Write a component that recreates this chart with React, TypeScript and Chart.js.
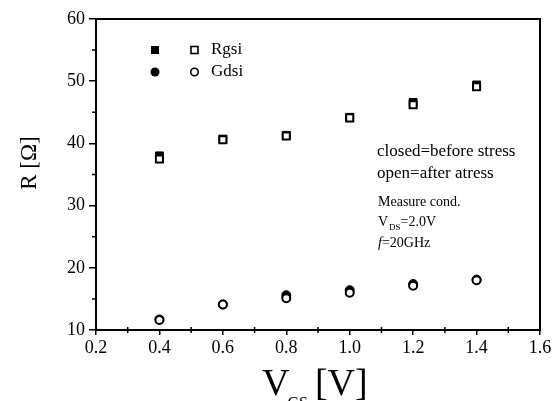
import React, { useEffect, useRef } from "react";
import { Chart, registerables } from "chart.js";

Chart.register(...registerables);

const vgs = [0.4, 0.6, 0.8, 1.0, 1.2, 1.4];
const rgsiClosed = [38.0, 40.7, 41.3, 44.2, 46.6, 49.4];
const rgsiOpen = [37.5, 40.6, 41.2, 44.1, 46.2, 49.1];
const gdsiClosed = [11.7, 14.1, 15.6, 16.4, 17.4, 18.1];
const gdsiOpen = [11.6, 14.1, 15.1, 16.0, 17.1, 18.0];
const xRange = [0.2, 1.6];
const yRange = [10, 60];
const xMinorTicks = [0.3, 0.5, 0.7, 0.9, 1.1, 1.3, 1.5];
const yMinorTicks = [15, 25, 35, 45, 55];
const legendLabels = ["Rgsi", "Gdsi"];
const noteLines = ["closed=before stress", "open=after atress", "Measure cond."];

const SERIF = "'Liberation Serif', 'DejaVu Serif', serif";

const pts = (ys: number[]) => vgs.map((x, i) => ({ x, y: ys[i] }));

const decorPlugin = {
  id: "decor",
  afterDraw(chart: any) {
    const { ctx, chartArea: a, scales } = chart;
    const xs = scales.x;
    const ys = scales.y;
    ctx.save();
    // frame
    ctx.strokeStyle = "#000";
    ctx.lineWidth = 2;
    ctx.strokeRect(a.left, a.top, a.right - a.left, a.bottom - a.top);
    // minor ticks
    ctx.lineWidth = 1.5;
    ctx.beginPath();
    xMinorTicks.forEach((v) => {
      const px = xs.getPixelForValue(v);
      ctx.moveTo(px, a.bottom - 3);
      ctx.lineTo(px, a.bottom + 3);
    });
    yMinorTicks.forEach((v) => {
      const py = ys.getPixelForValue(v);
      ctx.moveTo(a.left - 4, py);
      ctx.lineTo(a.left, py);
    });
    ctx.stroke();

    // legend
    ctx.fillStyle = "#000";
    const lx = a.left + 59;
    const ly1 = a.top + 31;
    const ly2 = a.top + 53;
    ctx.fillRect(lx - 4, ly1 - 4, 8, 8);
    ctx.lineWidth = 1.6;
    ctx.strokeRect(lx + 36, ly1 - 3.5, 7, 7);
    ctx.beginPath();
    ctx.arc(lx, ly2, 4.5, 0, Math.PI * 2);
    ctx.fill();
    ctx.beginPath();
    ctx.arc(lx + 39.5, ly2, 3.8, 0, Math.PI * 2);
    ctx.stroke();
    ctx.font = `17px ${SERIF}`;
    ctx.textBaseline = "middle";
    ctx.textAlign = "left";
    ctx.fillText(legendLabels[0], lx + 56, ly1);
    ctx.fillText(legendLabels[1], lx + 56, ly2);

    // notes
    const nx = a.left + 281;
    ctx.font = `17px ${SERIF}`;
    ctx.fillText(noteLines[0], nx, a.top + 133);
    ctx.fillText(noteLines[1], nx, a.top + 155);
    ctx.font = `14px ${SERIF}`;
    ctx.fillText(noteLines[2], nx + 1, a.top + 183);
    // V_DS=2.0V
    let cx = nx + 1;
    const vy = a.top + 203;
    ctx.fillText("V", cx, vy);
    cx += ctx.measureText("V").width;
    ctx.font = `9px ${SERIF}`;
    ctx.fillText("DS", cx + 1, vy + 6);
    cx += ctx.measureText("DS").width + 1;
    ctx.font = `14px ${SERIF}`;
    ctx.fillText("=2.0V", cx, vy);
    // f=20GHz
    cx = nx + 1;
    const fy = a.top + 224;
    ctx.font = `italic 14px ${SERIF}`;
    ctx.fillText("f", cx, fy);
    cx += ctx.measureText("f").width;
    ctx.font = `14px ${SERIF}`;
    ctx.fillText("=20GHz", cx, fy);

    // x title
    ctx.textBaseline = "alphabetic";
    let tx = 262;
    const tb = 395;
    ctx.font = `38px ${SERIF}`;
    ctx.fillText("V", tx, tb);
    tx += ctx.measureText("V").width - 2;
    ctx.font = `16px ${SERIF}`;
    ctx.fillText("GS", tx, tb + 13);
    tx += ctx.measureText("GS").width + 7;
    ctx.font = `38px ${SERIF}`;
    ctx.fillText("[V]", tx, tb);

    // y title
    ctx.save();
    ctx.translate(30, 163);
    ctx.rotate(-Math.PI / 2);
    ctx.textAlign = "center";
    ctx.textBaseline = "middle";
    ctx.font = `23px ${SERIF}`;
    ctx.fillText("R [\u03A9]", 0, 0);
    ctx.restore();

    ctx.restore();
  },
};

export default function App() {
  const ref = useRef<HTMLCanvasElement | null>(null);
  useEffect(() => {
    if (!ref.current) return;
    const chart = new Chart(ref.current, {
      type: "scatter",
      data: {
        datasets: [
          {
            label: "Rgsi open",
            data: pts(rgsiOpen),
            pointStyle: "rect",
            pointRadius: 5,
            pointBackgroundColor: "#fff",
            pointBorderColor: "#000",
            pointBorderWidth: 2,
          },
          {
            label: "Gdsi open",
            data: pts(gdsiOpen),
            pointStyle: "circle",
            pointRadius: 4,
            pointBackgroundColor: "#fff",
            pointBorderColor: "#000",
            pointBorderWidth: 2,
          },
          {
            label: "Rgsi closed",
            data: pts(rgsiClosed),
            pointStyle: "rect",
            pointRadius: 5.5,
            pointBackgroundColor: "#000",
            pointBorderColor: "#000",
            pointBorderWidth: 1,
          },
          {
            label: "Gdsi closed",
            data: pts(gdsiClosed),
            pointStyle: "circle",
            pointRadius: 4.5,
            pointBackgroundColor: "#000",
            pointBorderColor: "#000",
            pointBorderWidth: 1,
          },
        ],
      },
      options: {
        animation: false,
        responsive: false,
        devicePixelRatio: 1,
        layout: { padding: { left: 0, top: 19, right: 17, bottom: 0 } },
        plugins: { legend: { display: false }, tooltip: { enabled: false } },
        scales: {
          x: {
            type: "linear",
            min: xRange[0],
            max: xRange[1],
            afterFit: (s: any) => {
              s.height = 71;
            },
            ticks: {
              stepSize: 0.2,
              color: "#000",
              padding: 2,
              font: { family: SERIF, size: 18 },
              callback: (v: any) => Number(v).toFixed(1),
            },
            grid: {
              drawOnChartArea: false,
              drawTicks: true,
              tickLength: 5,
              color: "#000",
              lineWidth: 1.5,
            },
            border: { display: true, color: "#000", width: 2 },
          },
          y: {
            type: "linear",
            min: yRange[0],
            max: yRange[1],
            afterFit: (s: any) => {
              s.width = 96;
            },
            ticks: {
              stepSize: 10,
              color: "#000",
              padding: 4,
              font: { family: SERIF, size: 18 },
            },
            grid: {
              drawOnChartArea: false,
              drawTicks: true,
              tickLength: 7,
              color: "#000",
              lineWidth: 1.5,
            },
            border: { display: true, color: "#000", width: 2 },
          },
        },
      },
      plugins: [decorPlugin],
    });
    return () => chart.destroy();
  }, []);
  return (
    <div style={{ position: "absolute", left: 0, top: 0, width: 557, height: 401, background: "#fff" }}>
      <canvas ref={ref} width={557} height={401} />
    </div>
  );
}
